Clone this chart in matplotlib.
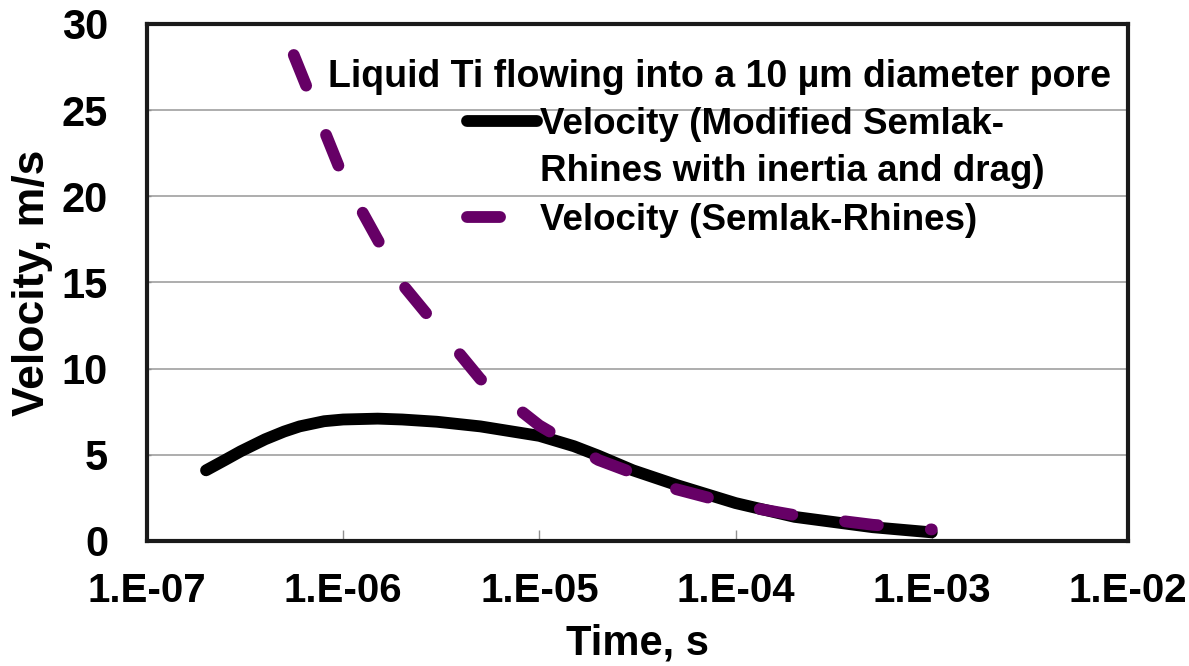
import numpy as np
import matplotlib
matplotlib.use("Agg")
import matplotlib.pyplot as plt
from matplotlib.legend_handler import HandlerLine2D

plt.rcParams['font.family'] = ['Liberation Sans', 'DejaVu Sans']
plt.rcParams['font.weight'] = 'bold'

# Modified Semlak-Rhines (with inertia and drag)
t_mod = [2e-7, 2.5e-7, 3e-7, 4e-7, 5e-7, 6e-7, 8e-7, 1e-6, 1.5e-6, 2e-6, 3e-6,
         5e-6, 1e-5, 1.5e-5, 2e-5, 3e-5, 5e-5, 1e-4, 2e-4, 5e-4, 1e-3]
v_mod = [4.1, 4.7, 5.2, 5.9, 6.35, 6.65, 6.95, 7.05, 7.1, 7.05, 6.92,
         6.65, 6.1, 5.5, 4.95, 4.1, 3.25, 2.2, 1.4, 0.8, 0.5]

# Semlak-Rhines
t_sr = [5.6e-7, 1e-6, 2e-6, 5e-6, 1e-5, 2e-5, 5e-5, 1e-4, 2e-4, 5e-4, 1e-3]
v_sr = [28.2, 21.1, 14.9, 9.4, 6.7, 4.7, 3.0, 2.1, 1.5, 0.94, 0.67]

x_ticks = [1e-7, 1e-6, 1e-5, 1e-4, 1e-3, 1e-2]
x_labels = ["1.E-07", "1.E-06", "1.E-05", "1.E-04", "1.E-03", "1.E-02"]
y_ticks = [0, 5, 10, 15, 20, 25, 30]

purple = "#660066"


class TopHandler(HandlerLine2D):
    # put the handle on the first text line instead of the middle
    def __init__(self, dy=0, **kw):
        super().__init__(**kw)
        self.dy = dy

    def create_artists(self, *args, **kw):
        arts = super().create_artists(*args, **kw)
        for a in arts:
            a.set_ydata(np.asarray(a.get_ydata()) + self.dy)
        return arts


fig = plt.figure(figsize=(11.89, 6.66), dpi=100)
ax = fig.add_axes([0.1236, 0.1877, 0.8251, 0.7763])

l1, = ax.plot(t_mod, v_mod, color="black", lw=8.5, solid_capstyle="round",
              solid_joinstyle="round",
              label="Velocity (Modified Semlak-\nRhines with inertia and drag)")
l2, = ax.plot(t_sr, v_sr, color=purple, lw=8.5, dashes=(2.8, 4.5),
              dash_capstyle="round", dash_joinstyle="round",
              label="Velocity (Semlak-Rhines)")

ax.set_xscale("log")
ax.set_xlim(1e-7, 1e-2)
ax.set_ylim(0, 30)
ax.set_xticks(x_ticks)
ax.set_xticklabels(x_labels)
ax.minorticks_off()
ax.set_yticks(y_ticks)

ax.grid(axis="y", color="#a0a0a0", lw=1.2)
ax.set_axisbelow(True)
for s in ax.spines.values():
    s.set_color("#1a1a1a")
    s.set_linewidth(3)

ax.tick_params(axis="x", direction="in", length=8, width=1, color="#909090",
               labelsize=29, pad=22)
ax.tick_params(axis="y", direction="in", length=3, width=1, color="#909090",
               labelsize=30, pad=28)

ax.set_xlabel("Time, s", fontsize=30, fontweight="bold", labelpad=10)
ax.set_ylabel("Velocity, m/s", fontsize=32, fontweight="bold", labelpad=6)

ax.text(0.1845, 0.898, "Liquid Ti flowing into a 10 µm diameter pore",
        transform=ax.transAxes, fontsize=27, fontweight="bold", va="center")

leg = ax.legend(handles=[l1, l2], loc="upper left", bbox_to_anchor=(0.326, 0.84),
                frameon=False, fontsize=26.5, handlelength=1.9, handletextpad=0.1,
                labelspacing=0.36, borderpad=0, borderaxespad=0,
                handler_map={l1: TopHandler(dy=20)})
for txt in leg.get_texts():
    txt.set_linespacing(1.47)

fig.savefig("out.png", dpi=100)
